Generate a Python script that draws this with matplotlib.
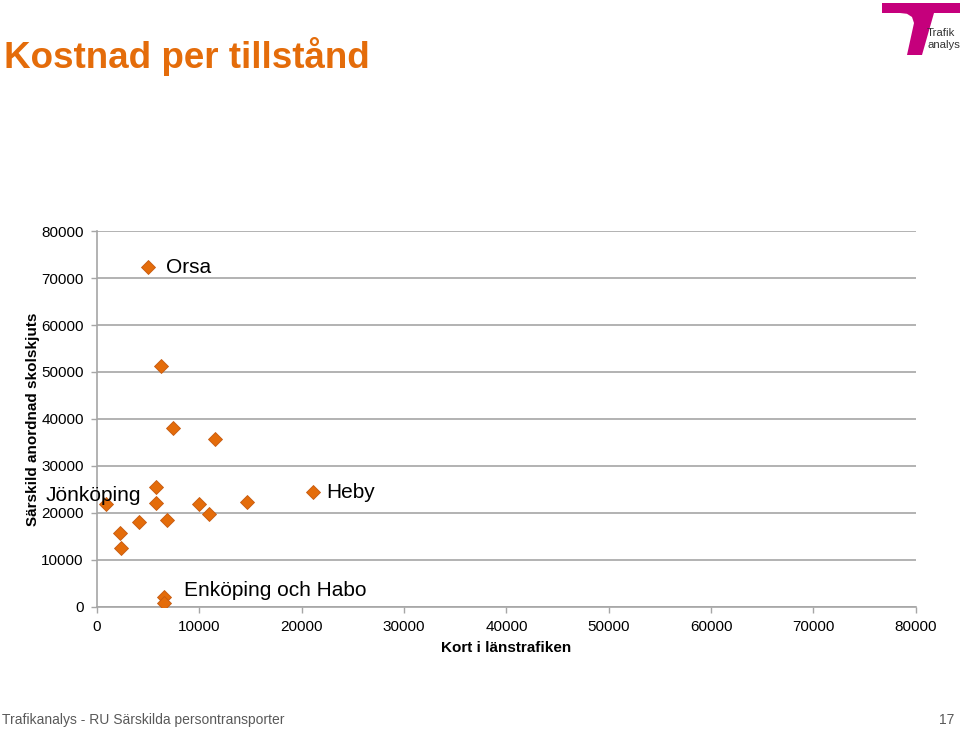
import matplotlib.pyplot as plt
from matplotlib.patches import Polygon

# data
kort = [4980, 6250, 7420, 11520, 5760, 5760, 9960, 14650, 10940, 6840, 4100, 2250, 2340, 880, 21090, 6540, 6540]
skolskjuts = [72300, 51300, 38100, 35700, 25600, 22100, 21900, 22300, 19800, 18500, 18100, 15700, 12500, 21900, 24500, 2200, 850]
labels = {"Orsa": 0, "Jönköping": 13, "Heby": 14, "Enköping och Habo": 15}

ticks = [0, 10000, 20000, 30000, 40000, 50000, 60000, 70000, 80000]

orange = "#E46C0A"
grey = "#A6A6A6"

plt.rcParams['font.family'] = ['Liberation Sans', 'DejaVu Sans']

fig = plt.figure(figsize=(9.6, 7.29), dpi=100)
ax = fig.add_axes([0.101, 0.1674, 0.853, 0.5157])

ax.plot(kort, skolskjuts, linestyle="none", marker="D", markersize=7.5,
        color=orange, markeredgecolor="#C55A11", markeredgewidth=0.6, zorder=3)

ax.set_xlim(0, 80000)
ax.set_ylim(0, 80000)
ax.set_xticks(ticks)
ax.set_yticks(ticks)
ax.tick_params(labelsize=11, length=4, color=grey, width=1, pad=5.5)
ax.grid(axis="y", color=grey, linewidth=1.2)
ax.set_axisbelow(True)
for s in ["top", "right"]:
    ax.spines[s].set_visible(False)
for s in ["left", "bottom"]:
    ax.spines[s].set_color(grey)
    ax.spines[s].set_linewidth(1.2)

ax.set_xlabel("Kort i länstrafiken", fontsize=11, fontweight="bold", labelpad=5)
ax.set_ylabel("Särskild anordnad skolskjuts", fontsize=11, fontweight="bold")
ax.yaxis.set_label_coords(-0.07, 0.5)

# point labels
i = labels["Orsa"]
ax.text(kort[i] + 1800, skolskjuts[i], "Orsa", fontsize=15, va="center", ha="left")
i = labels["Jönköping"]
ax.text(kort[i] + 3400, skolskjuts[i] + 1900, "Jönköping", fontsize=15, va="center", ha="right")
i = labels["Heby"]
ax.text(kort[i] + 1300, skolskjuts[i] - 200, "Heby", fontsize=15, va="center", ha="left")
i = labels["Enköping och Habo"]
ax.text(kort[i] + 2000, skolskjuts[i] + 1300, "Enköping och Habo", fontsize=15, va="center", ha="left")

# title and footer
fig.text(0.004, 0.923, "Kostnad per tillstånd", fontsize=26.5, fontweight="bold", color=orange, va="center")
fig.text(0.002, 0.013, "Trafikanalys - RU Särskilda persontransporter", fontsize=10, color="#595959", va="center")
fig.text(0.994, 0.013, "17", fontsize=10, color="#595959", va="center", ha="right")

# logo
W, H = 960, 729
pts = [(882, 3), (960, 3), (960, 13), (934, 13), (922, 55), (907, 55), (914, 23),
       (912, 17), (907, 13.8), (900, 13), (882, 13)]
fig.patches.append(Polygon([(x / W, 1 - y / H) for x, y in pts], closed=True,
                           facecolor="#C5007C", edgecolor="none", transform=fig.transFigure))
fig.text(927 / W, 1 - 33 / H, "Trafik", fontsize=8.2, color="#333333", va="center")
fig.text(927 / W, 1 - 45 / H, "analys", fontsize=8.2, color="#333333", va="center")

fig.savefig("out.png", dpi=100)
